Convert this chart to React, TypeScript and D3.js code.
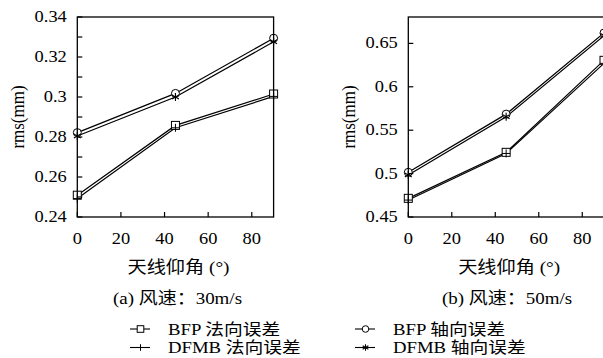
import React from 'react';
import * as d3 from 'd3';

const angles = [0, 45, 90];
const xTicks = [0, 20, 40, 60, 80];

// (a) 30 m/s
const bfpNormalA = [0.2509, 0.2858, 0.3015];
const dfmbNormalA = [0.2492, 0.2846, 0.3003];
const bfpAxialA = [0.2822, 0.3018, 0.3294];
const dfmbAxialA = [0.2805, 0.3, 0.3276];
const yTicksA = [0.24, 0.26, 0.28, 0.3, 0.32, 0.34];
const yMinorA = [0.25, 0.27, 0.29, 0.31, 0.33];

// (b) 50 m/s
const bfpNormalB = [0.4715, 0.5245, 0.6305];
const dfmbNormalB = [0.4695, 0.5232, 0.627];
const bfpAxialB = [0.5015, 0.5685, 0.662];
const dfmbAxialB = [0.4985, 0.5655, 0.659];
const yTicksB = [0.45, 0.5, 0.55, 0.6, 0.65];

const seriesNames = ['BFP 法向误差', 'DFMB 法向误差', 'BFP 轴向误差', 'DFMB 轴向误差'];
const markerKinds = ['square', 'plus', 'circle', 'star'];

const FONT = "'Liberation Serif', 'Noto Sans CJK SC', serif";
const SX = 1.15; // the source figure is a bit stretched sideways

function T(props: { x: number; y: number; anchor?: string; size: number; children: React.ReactNode }) {
  return (
    <text
      transform={`translate(${props.x},${props.y}) scale(${SX},1)`}
      textAnchor={props.anchor || 'start'}
      dominantBaseline="central"
      fontSize={props.size}
    >
      {props.children}
    </text>
  );
}

function Marker({ kind, x, y, s = 4 }: { kind: string; x: number; y: number; s?: number }) {
  if (kind === 'square')
    return <rect x={x - s} y={y - s} width={2 * s} height={2 * s} fill="white" stroke="black" strokeWidth={1} />;
  if (kind === 'circle') return <circle cx={x} cy={y} r={s} fill="white" stroke="black" strokeWidth={1} />;
  if (kind === 'plus')
    return <path d={`M${x - s},${y}H${x + s}M${x},${y - s}V${y + s}`} stroke="black" strokeWidth={1} />;
  const d = [0, 60, 120]
    .map((a) => {
      const r = (a * Math.PI) / 180;
      const dx = Math.sin(r) * s;
      const dy = Math.cos(r) * s;
      return `M${x - dx},${y - dy}L${x + dx},${y + dy}`;
    })
    .join('');
  return <path d={d} stroke="black" strokeWidth={1.1} />;
}

function Panel(props: {
  left: number;
  right: number;
  domain: [number, number];
  ticks: number[];
  minor: number[];
  series: number[][];
}) {
  const top = 17;
  const bottom = 217;
  const x = d3.scaleLinear().domain([0, 90]).range([props.left, props.right]);
  const y = d3.scaleLinear().domain(props.domain).range([bottom, top]);
  const line = d3
    .line<number>()
    .x((_, i) => x(angles[i]))
    .y((v) => y(v));
  const fmt = (v: number) => String(+v.toFixed(2));
  return (
    <g>
      {props.series.map((s, i) => (
        <path key={i} d={line(s) || ''} fill="none" stroke="black" strokeWidth={1.2} />
      ))}
      {props.series.map((s, i) =>
        s.map((v, j) => <Marker key={i + '-' + j} kind={markerKinds[i]} x={x(angles[j])} y={y(v)} />)
      )}
      <rect x={props.left} y={top} width={props.right - props.left} height={bottom - top} fill="none" stroke="black" strokeWidth={1.3} />
      {props.ticks.concat(props.minor).map((t) => (
        <line key={'yt' + t} x1={props.left} x2={props.left + 5} y1={y(t)} y2={y(t)} stroke="black" strokeWidth={1.2} />
      ))}
      {props.ticks.map((t) => (
        <T key={'yl' + t} x={props.left - 10.5} y={y(t)} anchor="end" size={16}>
          {fmt(t)}
        </T>
      ))}
      {xTicks.map((t) => (
        <g key={'xt' + t}>
          <line x1={x(t)} x2={x(t)} y1={bottom} y2={bottom - 5} stroke="black" strokeWidth={1.2} />
          <T x={x(t)} y={238.5} anchor="middle" size={16}>
            {t}
          </T>
        </g>
      ))}
      <text
        transform={`translate(${props.left - 59.5},${(top + bottom) / 2}) rotate(-90) scale(1,${SX})`}
        textAnchor="middle"
        dominantBaseline="central"
        fontSize={17}
      >
        rms(mm)
      </text>
      <T x={(props.left + props.right) / 2 + 3} y={267.5} anchor="middle" size={16.7}>
        天线仰角 (°)
      </T>
    </g>
  );
}

export default function App() {
  return (
    <svg width={603} height={358} style={{ position: 'absolute', left: 0, top: 0, background: 'white' }} fontFamily={FONT}>
      <Panel
        left={77.3}
        right={273.6}
        domain={[0.24, 0.34]}
        ticks={yTicksA}
        minor={yMinorA}
        series={[bfpNormalA, dfmbNormalA, bfpAxialA, dfmbAxialA]}
      />
      <Panel
        left={408.3}
        right={604}
        domain={[0.45, 0.6804]}
        ticks={yTicksB}
        minor={[]}
        series={[bfpNormalB, dfmbNormalB, bfpAxialB, dfmbAxialB]}
      />
      <T x={177.5} y={298.5} anchor="middle" size={16.5}>
        (a) 风速：30m/s
      </T>
      <T x={507} y={298.5} anchor="middle" size={16.5}>
        (b) 风速：50m/s
      </T>
      {seriesNames.map((name, i) => {
        const col = Math.floor(i / 2);
        const row = i % 2;
        const x0 = col === 0 ? 130 : 355;
        const yy = 329 + row * 18.5;
        return (
          <g key={name}>
            <line x1={x0} x2={x0 + 20} y1={yy} y2={yy} stroke="black" strokeWidth={1.1} />
            <Marker kind={markerKinds[i]} x={x0 + 10.5} y={yy} s={3.3} />
            <T x={x0 + 38} y={yy} size={16.3}>
              {name}
            </T>
          </g>
        );
      })}
    </svg>
  );
}
